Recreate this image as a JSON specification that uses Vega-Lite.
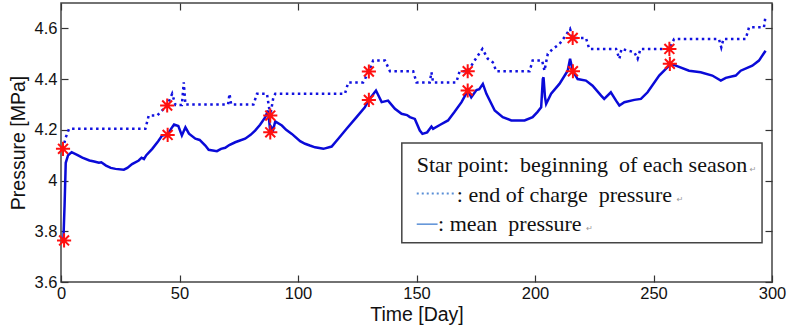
{
  "$schema": "https://vega.github.io/schema/vega-lite/v6.json",
  "width": 711,
  "height": 279,
  "autosize": {"type": "none"},
  "padding": {"left": 61, "top": 3, "right": 18, "bottom": 49},
  "background": "white",
  "datasets": {
    "mean": [
      {"d":1,"p":3.764},{"d":1.5,"p":3.9},{"d":2,"p":4.07},{"d":3,"p":4.10},{"d":4.5,"p":4.112},{"d":7,"p":4.10},{"d":9,"p":4.09},{"d":12,"p":4.079},{"d":14,"p":4.075},{"d":16,"p":4.07},{"d":17,"p":4.072},{"d":19,"p":4.059},{"d":21,"p":4.05},{"d":23,"p":4.046},{"d":26.5,"p":4.043},{"d":28,"p":4.05},{"d":30,"p":4.065},{"d":32.8,"p":4.079},{"d":34,"p":4.09},{"d":35,"p":4.085},{"d":36,"p":4.1},{"d":38.5,"p":4.125},{"d":41,"p":4.155},{"d":42.7,"p":4.178},{"d":45,"p":4.18},{"d":46.5,"p":4.205},{"d":47.7,"p":4.221},{"d":49.5,"p":4.215},{"d":51,"p":4.178},{"d":52.5,"p":4.21},{"d":54,"p":4.185},{"d":56.7,"p":4.165},{"d":58.5,"p":4.16},{"d":60.9,"p":4.138},{"d":62.3,"p":4.121},{"d":65.8,"p":4.116},{"d":67.5,"p":4.125},{"d":69.3,"p":4.129},{"d":71,"p":4.14},{"d":73.5,"p":4.151},{"d":75.5,"p":4.158},{"d":77.7,"p":4.165},{"d":80,"p":4.18},{"d":81.9,"p":4.197},{"d":84,"p":4.22},{"d":86.2,"p":4.25},{"d":87.3,"p":4.276},{"d":87.9,"p":4.23},{"d":88.3,"p":4.19},{"d":88.8,"p":4.21},{"d":89.5,"p":4.2},{"d":90.4,"p":4.233},{"d":93.2,"p":4.217},{"d":95,"p":4.2},{"d":97.4,"p":4.184},{"d":100.9,"p":4.155},{"d":103,"p":4.145},{"d":105,"p":4.138},{"d":107.2,"p":4.131},{"d":109,"p":4.128},{"d":110.7,"p":4.125},{"d":114.2,"p":4.134},{"d":117,"p":4.165},{"d":120.5,"p":4.204},{"d":124.7,"p":4.25},{"d":128.2,"p":4.289},{"d":129.9,"p":4.318},{"d":132.9,"p":4.355},{"d":135.3,"p":4.309},{"d":138,"p":4.315},{"d":140.9,"p":4.283},{"d":143.7,"p":4.263},{"d":146,"p":4.258},{"d":147.2,"p":4.25},{"d":149.3,"p":4.243},{"d":151.4,"p":4.197},{"d":152.5,"p":4.184},{"d":154.5,"p":4.19},{"d":156.3,"p":4.213},{"d":157,"p":4.204},{"d":160,"p":4.22},{"d":163.3,"p":4.237},{"d":166,"p":4.27},{"d":169,"p":4.309},{"d":171.7,"p":4.355},{"d":173.1,"p":4.328},{"d":175.3,"p":4.357},{"d":176.5,"p":4.36},{"d":178,"p":4.381},{"d":179.5,"p":4.342},{"d":183,"p":4.276},{"d":186.4,"p":4.25},{"d":190,"p":4.237},{"d":195.6,"p":4.237},{"d":199,"p":4.25},{"d":201,"p":4.27},{"d":202.6,"p":4.289},{"d":203.3,"p":4.40},{"d":203.6,"p":4.407},{"d":204.2,"p":4.33},{"d":204.7,"p":4.302},{"d":206.8,"p":4.342},{"d":210.3,"p":4.381},{"d":213.8,"p":4.433},{"d":214.8,"p":4.48},{"d":215.9,"p":4.433},{"d":218,"p":4.40},{"d":221.5,"p":4.394},{"d":224.3,"p":4.374},{"d":227.9,"p":4.335},{"d":229.2,"p":4.322},{"d":232,"p":4.348},{"d":234.2,"p":4.315},{"d":235.6,"p":4.296},{"d":237.7,"p":4.309},{"d":241.9,"p":4.318},{"d":244.7,"p":4.322},{"d":247.5,"p":4.348},{"d":252.4,"p":4.414},{"d":256.6,"p":4.453},{"d":256.9,"p":4.46},{"d":259.4,"p":4.453},{"d":265,"p":4.433},{"d":269.9,"p":4.427},{"d":274.8,"p":4.414},{"d":278.4,"p":4.394},{"d":280.5,"p":4.405},{"d":284.7,"p":4.414},{"d":286.8,"p":4.433},{"d":291.7,"p":4.453},{"d":294.5,"p":4.473},{"d":297.3,"p":4.512}
    ],
    "eoc": [
      {"d":0.8,"p":4.125},{"d":2,"p":4.17},{"d":3.4,"p":4.204},{"d":35.6,"p":4.204},{"d":37,"p":4.256},{"d":40.6,"p":4.256},{"d":42,"p":4.27},{"d":44.8,"p":4.296},{"d":46.9,"p":4.342},{"d":48.3,"p":4.298},{"d":51,"p":4.298},{"d":51.8,"p":4.387},{"d":52.5,"p":4.30},{"d":70.5,"p":4.30},{"d":71.1,"p":4.342},{"d":71.8,"p":4.30},{"d":81.2,"p":4.30},{"d":82.7,"p":4.342},{"d":86.9,"p":4.342},{"d":88.3,"p":4.256},{"d":89.6,"p":4.328},{"d":90.4,"p":4.342},{"d":119.8,"p":4.342},{"d":121.2,"p":4.387},{"d":127.5,"p":4.387},{"d":129.9,"p":4.43},{"d":131.7,"p":4.473},{"d":136.7,"p":4.473},{"d":138.8,"p":4.431},{"d":148.6,"p":4.431},{"d":150,"p":4.387},{"d":155.6,"p":4.387},{"d":156.3,"p":4.427},{"d":157,"p":4.387},{"d":166.8,"p":4.387},{"d":168.2,"p":4.431},{"d":171.7,"p":4.431},{"d":174.5,"p":4.473},{"d":177.8,"p":4.519},{"d":180.1,"p":4.48},{"d":182.2,"p":4.466},{"d":183.7,"p":4.431},{"d":197.7,"p":4.431},{"d":199,"p":4.473},{"d":203,"p":4.473},{"d":204,"p":4.433},{"d":205.4,"p":4.50},{"d":207.5,"p":4.519},{"d":210.3,"p":4.538},{"d":212.4,"p":4.565},{"d":214.8,"p":4.598},{"d":215.9,"p":4.562},{"d":221.5,"p":4.562},{"d":222.9,"p":4.519},{"d":234.2,"p":4.519},{"d":235.6,"p":4.48},{"d":236.5,"p":4.519},{"d":241.9,"p":4.506},{"d":243.3,"p":4.48},{"d":244.5,"p":4.519},{"d":256.6,"p":4.519},{"d":258.7,"p":4.558},{"d":277.6,"p":4.558},{"d":278.6,"p":4.525},{"d":279.5,"p":4.558},{"d":288.9,"p":4.558},{"d":290.3,"p":4.604},{"d":296.6,"p":4.604},{"d":297.3,"p":4.65}
    ],
    "stars": [
      {"d":0.85,"p":4.125},{"d":1.3,"p":3.764},{"d":44.8,"p":4.296},{"d":45,"p":4.18},{"d":88.3,"p":4.256},{"d":88.3,"p":4.19},{"d":129.9,"p":4.43},{"d":129.9,"p":4.318},{"d":171.6,"p":4.431},{"d":171.6,"p":4.355},{"d":215.9,"p":4.562},{"d":216,"p":4.431},{"d":256.7,"p":4.519},{"d":256.9,"p":4.46}
    ],
    "box": [{"d":143.8,"d2":295.8,"p":4.148,"p2":3.755}],
    "ltext": [
      {"d":150.1,"p":4.034,"t":"Star point:\u00a0 beginning\u00a0 of each season"},
      {"d":167,"p":3.915,"t":": end of charge\u00a0 pressure"},
      {"d":159.1,"p":3.801,"t":": mean\u00a0 pressure"}
    ],
    "lmarks": [
      {"d":290.6,"p":4.034},{"d":259.8,"p":3.915},{"d":221.6,"p":3.801}
    ],
    "ldot": [{"d":150.1,"d2":166.5,"p":3.949}],
    "lsolid": [{"d":150.1,"d2":158.9,"p":3.828}]
  },
  "layer": [
    {
      "data": {"name": "mean"},
      "mark": {"type": "line", "color": "#0a0ad8", "strokeWidth": 2.5, "interpolate": "linear"},
      "encoding": {
        "x": {"field": "d", "type": "quantitative", "scale": {"domain": [0, 300], "nice": false},
          "axis": {"orient": "bottom", "values": [0,50,100,150,200,250,300], "title": "Time [Day]", "labelPadding": 10, "titlePadding": 4}},
        "y": {"field": "p", "type": "quantitative", "scale": {"domain": [3.6, 4.7], "nice": false, "zero": false},
          "axis": {"orient": "left", "values": [3.6,3.8,4,4.2,4.4,4.6], "format": ".1~f", "title": "Pressure [MPa]", "labelPadding": 11, "titlePadding": 6}}
      }
    },
    {
      "data": {"name": "eoc"},
      "mark": {"type": "line", "color": "#1212e0", "strokeWidth": 2.5, "strokeDash": [2.5, 3.5], "strokeCap": "butt"},
      "encoding": {
        "x": {"field": "d", "type": "quantitative", "axis": null},
        "y": {"field": "p", "type": "quantitative", "axis": null}
      }
    },
    {
      "data": {"name": "stars"},
      "mark": {"type": "point", "shape": "M-1,0L1,0M0,-1L0,1M-0.7,-0.7L0.7,0.7M-0.7,0.7L0.7,-0.7", "filled": false, "stroke": "#ff1010", "strokeWidth": 2, "size": 200, "opacity": 1},
      "encoding": {
        "x": {"field": "d", "type": "quantitative", "axis": null},
        "y": {"field": "p", "type": "quantitative", "axis": null}
      }
    },
    {
      "data": {"name": "stars"},
      "mark": {"type": "point", "opacity": 0},
      "encoding": {
        "x": {"field": "d", "type": "quantitative", "axis": {"orient": "top", "values": [0,50,100,150,200,250,300], "labels": false, "title": null}},
        "y": {"field": "p", "type": "quantitative", "axis": {"orient": "right", "values": [3.6,3.8,4,4.2,4.4,4.6], "labels": false, "title": null}}
      }
    },
    {
      "data": {"name": "box"},
      "mark": {"type": "rect", "fill": "white", "stroke": "#444", "strokeWidth": 1.5},
      "encoding": {
        "x": {"field": "d", "type": "quantitative", "axis": null},
        "x2": {"field": "d2"},
        "y": {"field": "p", "type": "quantitative", "axis": null},
        "y2": {"field": "p2"}
      }
    },
    {
      "data": {"name": "ldot"},
      "mark": {"type": "rule", "color": "#5a8fd6", "strokeWidth": 2, "strokeDash": [2, 3]},
      "encoding": {
        "x": {"field": "d", "type": "quantitative", "axis": null},
        "x2": {"field": "d2"},
        "y": {"field": "p", "type": "quantitative", "axis": null}
      }
    },
    {
      "data": {"name": "lsolid"},
      "mark": {"type": "rule", "color": "#5a8fd6", "strokeWidth": 1.5},
      "encoding": {
        "x": {"field": "d", "type": "quantitative", "axis": null},
        "x2": {"field": "d2"},
        "y": {"field": "p", "type": "quantitative", "axis": null}
      }
    },
    {
      "data": {"name": "ltext"},
      "mark": {"type": "text", "align": "left", "baseline": "alphabetic", "font": "Liberation Serif", "fontSize": 22, "color": "#111"},
      "encoding": {
        "x": {"field": "d", "type": "quantitative", "axis": null},
        "y": {"field": "p", "type": "quantitative", "axis": null},
        "text": {"field": "t"}
      }
    },
    {
      "data": {"name": "lmarks"},
      "mark": {"type": "text", "align": "left", "baseline": "alphabetic", "font": "DejaVu Sans", "fontSize": 8, "color": "#999", "text": "↵"},
      "encoding": {
        "x": {"field": "d", "type": "quantitative", "axis": null},
        "y": {"field": "p", "type": "quantitative", "axis": null}
      }
    }
  ],
  "resolve": {"axis": {"x": "independent", "y": "independent"}},
  "config": {
    "view": {"stroke": "#444", "strokeWidth": 1.5},
    "axis": {
      "grid": false,
      "domain": false,
      "tickSize": -7,
      "tickColor": "#333",
      "tickWidth": 1.2,
      "labelFlush": false,
      "labelOverlap": false,
      "labelFont": "Liberation Sans",
      "labelFontSize": 16.5,
      "labelColor": "#111",
      "titleFont": "Liberation Sans",
      "titleFontSize": 19.5,
      "titleFontWeight": "normal",
      "titleColor": "#111"
    }
  }
}
